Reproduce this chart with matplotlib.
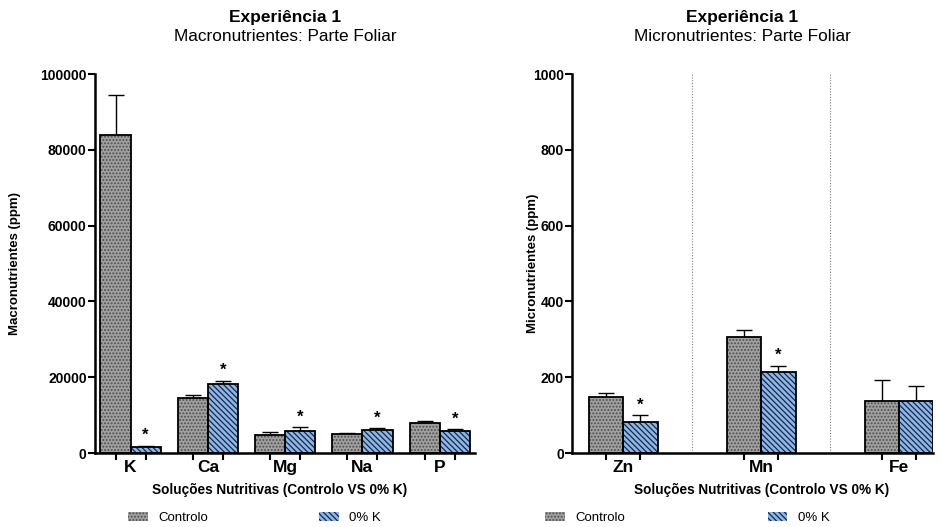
import numpy as np
import matplotlib
import matplotlib.pyplot as plt

matplotlib.rcParams['font.family'] = ['Liberation Sans', 'DejaVu Sans']
matplotlib.rcParams['hatch.linewidth'] = 0.9

# Parte foliar, experiencia 1 (ppm)
macro = ["K", "Ca", "Mg", "Na", "P"]
macro_ctrl = [83800, 14600, 4700, 4900, 7900]
macro_ctrl_err = [10600, 800, 800, 300, 500]
macro_k0 = [1700, 18200, 5900, 6000, 5900]
macro_k0_err = [200, 900, 900, 500, 350]
macro_sig = [True, True, True, True, True]

micro = ["Zn", "Mn", "Fe"]
micro_ctrl = [148, 305, 138]
micro_ctrl_err = [10, 19, 55]
micro_k0 = [81, 213, 136]
micro_k0_err = [18, 17, 42]
micro_sig = [True, True, False]

grey = "#a0a0a0"
grey_hatch = "#4e4e4e"
blue = "#8fb6e6"
blue_hatch = "#16284a"


def draw_bars(ax, x, vals, errs, face, hcolor, hatch, label):
    # hatch drawn first (in its own colour), then the black outline on top
    ax.bar(x, vals, width=w, color=face, edgecolor=hcolor, hatch=hatch,
           linewidth=0, zorder=2, label=label)
    ax.bar(x, vals, width=w, fill=False, edgecolor="black", linewidth=1.3,
           zorder=3)
    ax.errorbar(x, vals, yerr=[np.zeros(len(vals)), errs], fmt="none",
                ecolor="black", elinewidth=1.0, capsize=6, capthick=1.0,
                zorder=1)


def style_axes(ax, groups, names, xlim, ylim, yticks, ylabel, ylab_x):
    ax.set_xlim(*xlim)
    ax.set_ylim(*ylim)
    ax.set_yticks(yticks)
    ax.set_yticklabels([str(t) for t in yticks], fontsize=10,
                       fontweight="bold")
    centers = np.concatenate([groups - w / 2, groups + w / 2])
    ax.set_xticks(centers)
    ax.set_xticklabels([""] * len(centers))
    ax.set_xticks(groups, minor=True)
    ax.set_xticklabels(names, minor=True, fontsize=12.5, fontweight="bold")
    ax.tick_params(axis="x", which="minor", length=0, pad=5)
    ax.tick_params(axis="x", which="major", length=5, width=1.5)
    ax.tick_params(axis="y", length=5, width=1.5, pad=1)
    for s in ["top", "right"]:
        ax.spines[s].set_visible(False)
    for s in ["left", "bottom"]:
        ax.spines[s].set_linewidth(1.8)
    ax.set_ylabel(ylabel, fontsize=9.5, fontweight="bold")
    ax.yaxis.set_label_coords(ylab_x, 0.5)


def add_legend(ax, x0, spacing):
    fig.legend(*ax.get_legend_handles_labels(), loc="center left",
               bbox_to_anchor=(x0, 0.017), ncol=2, frameon=False,
               fontsize=9.5, columnspacing=spacing, handlelength=1.5,
               handleheight=0.65, handletextpad=0.8, borderpad=0,
               borderaxespad=0)


fig = plt.figure(figsize=(9.41, 5.27), dpi=100)

# macronutrientes
w = 0.39
ax1 = fig.add_axes([0.101, 0.1404, 0.404, 0.719])
g1 = np.arange(len(macro), dtype=float)
draw_bars(ax1, g1 - w / 2, macro_ctrl, macro_ctrl_err, grey, grey_hatch,
          ".....", "Controlo")
draw_bars(ax1, g1 + w / 2, macro_k0, macro_k0_err, blue, blue_hatch,
          "\\\\\\\\\\\\", "0% K")
for xi, v, e, s in zip(g1 + w / 2, macro_k0, macro_k0_err, macro_sig):
    if s:
        ax1.text(xi, v + e + 700, "*", ha="center", va="bottom",
                 fontsize=12, fontweight="bold")
style_axes(ax1, g1, macro, (-0.46, 4.46), (0, 100000),
           np.arange(0, 100001, 20000), "Macronutrientes (ppm)", -0.195)
add_legend(ax1, 128 / 941, 8.4)

# micronutrientes
w = 0.25
ax2 = fig.add_axes([0.608, 0.1404, 0.384, 0.719])
g2 = np.arange(len(micro), dtype=float)
for xv in [0.5, 1.5]:
    ax2.axvline(xv, color="#808080", linestyle=(0, (1, 1.5)), linewidth=0.8,
                zorder=0)
draw_bars(ax2, g2 - w / 2, micro_ctrl, micro_ctrl_err, grey, grey_hatch,
          ".....", "Controlo")
draw_bars(ax2, g2 + w / 2, micro_k0, micro_k0_err, blue, blue_hatch,
          "\\\\\\\\\\\\", "0% K")
for xi, v, e, s in zip(g2 + w / 2, micro_k0, micro_k0_err, micro_sig):
    if s:
        ax2.text(xi, v + e + 7, "*", ha="center", va="bottom",
                 fontsize=12, fontweight="bold")
style_axes(ax2, g2, micro, (-0.37, 2.25), (0, 1000),
           np.arange(0, 1001, 200), "Micronutrientes (ppm)", -0.092)
add_legend(ax2, 545 / 941, 10.8)

# titles and axis titles
for xc, sub in [(285 / 941, "Macronutrientes: Parte Foliar"),
                (742 / 941, "Micronutrientes: Parte Foliar")]:
    fig.text(xc, 0.966, "Experiência 1", ha="center", va="center",
             fontsize=12.5, fontweight="bold")
    fig.text(xc, 0.930, sub, ha="center", va="center", fontsize=12.4)
for xc in [280 / 941, 762 / 941]:
    fig.text(xc, 0.070, "Soluções Nutritivas (Controlo VS 0% K)",
             ha="center", va="center", fontsize=9.8, fontweight="bold")

plt.savefig("out.png", dpi=100)
